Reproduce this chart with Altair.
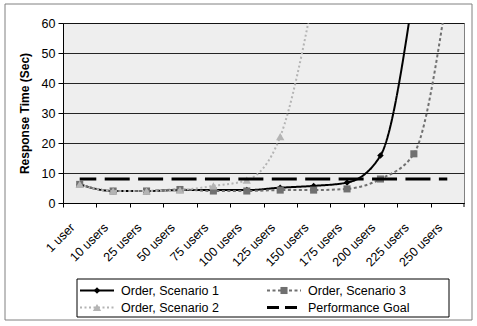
import altair as alt
import pandas as pd

# ---------------- data ----------------
categories = ["1 user", "10 users", "25 users", "50 users", "75 users", "100 users",
              "125 users", "150 users", "175 users", "200 users", "225 users", "250 users"]
series_names = ["Order, Scenario 1", "Order, Scenario 2", "Order, Scenario 3", "Performance Goal"]
scenario1 = [6.2, 4.0, 4.0, 4.3, 4.3, 4.3, 5.1, 5.7, 6.8, 15.8, 71.0, None]
scenario2 = [6.2, 4.0, 4.0, 4.3, 5.7, 7.6, 22.1, 69.0, None, None, None, None]
scenario3 = [6.2, 4.0, 4.0, 4.5, 4.0, 4.0, 4.3, 4.3, 4.7, 8.0, 16.4, 70.0]
goal = [8, 8, 8, 8, 8, 8, 8, 8, 8, 8, 8, 8]
y_ticks = [0, 10, 20, 30, 40, 50, 60]
legend_order = ["Order, Scenario 1", "Order, Scenario 3", "Order, Scenario 2", "Performance Goal"]

rows = []
for name, vals in zip(series_names, [scenario1, scenario2, scenario3, goal]):
    for i, (c, v) in enumerate(zip(categories, vals)):
        if v is not None:
            rows.append({"category": c, "series": name, "value": v, "idx": i})
df = pd.DataFrame(rows)

# ---------------- layout / style ----------------
W, H = 401, 180
STEP = W / len(categories)
FONT = "Liberation Sans"

styles = {
    "Order, Scenario 1": dict(color="#000000", dash=[1, 0], width=2.0, shape="diamond", size=42, dashoffset=0),
    "Order, Scenario 2": dict(color="#b4b4b4", dash=[2, 2.5], width=2.0, shape="triangle-up", size=70, dashoffset=0),
    "Order, Scenario 3": dict(color="#707070", dash=[3, 2.5], width=2.0, shape="square", size=50, dashoffset=0),
    "Performance Goal": dict(color="#000000", dash=[25, STEP - 25], width=3.2, shape=None, size=0, dashoffset=STEP - 25),
}

x_enc = alt.X("category:N", sort=categories,
              scale=alt.Scale(type="point", domain=categories, padding=0.5),
              axis=alt.Axis(title=None, labelAngle=-45, labelAlign="right", labelBaseline="middle",
                            labelFont=FONT, labelFontSize=12.5, labelColor="#000000",
                            labelPadding=18, tickOffset=-STEP / 2, labelOffset=STEP / 2 - 7.5,
                            tickSize=4, tickColor="#000000", domainColor="#000000",
                            grid=False, labelOverlap=False))
y_enc = alt.Y("value:Q",
              scale=alt.Scale(domain=[0, 60], nice=False, zero=True),
              axis=alt.Axis(values=y_ticks, title="Response Time (Sec)",
                            titleFont=FONT, titleFontSize=12, titleFontWeight="bold",
                            titleColor="#000000", titlePadding=10,
                            labelFont=FONT, labelFontSize=12.5, labelColor="#000000",
                            labelPadding=3, tickSize=5, tickColor="#000000",
                            domainColor="#000000", grid=True, gridColor="#000000",
                            gridWidth=1, gridOpacity=0.85))

base = alt.Chart(df)
layers = []
# plot-area layers, drawn in Excel series order (S1, S3, S2, Goal)
for name in legend_order:
    st = styles[name]
    line = base.transform_filter(alt.datum.series == name).mark_line(
        color=st["color"], strokeDash=st["dash"], strokeWidth=st["width"],
        strokeDashOffset=st["dashoffset"], interpolate="monotone", clip=True
    ).encode(x=x_enc, y=y_enc)
    layers.append(line)
    if st["shape"]:
        pts = base.transform_filter(alt.datum.series == name).mark_point(
            shape=st["shape"], size=st["size"], filled=True, color=st["color"], opacity=1, clip=True
        ).encode(x=x_enc, y=y_enc)
        layers.append(pts)

# closing tick at the right end of the category axis
end_tick = alt.Chart(pd.DataFrame({"a": [0]})).mark_rule(color="#000000", strokeWidth=1).encode(
    x=alt.value(W), y=alt.value(H), y2=alt.value(H + 4))
layers.append(end_tick)

# ---------------- legend (drawn below the plot) ----------------
BOX_X0, BOX_X1, BOX_Y0, BOX_Y1 = 14, 386, 256, 294
COL_X = [17, 204]
ROW_Y = [267.5, 284.5]
SYM_W = 34
leg_rows = []
for k, name in enumerate(legend_order):
    c, r = k % 2, k // 2
    leg_rows.append({"series": name, "x0": COL_X[c], "x1": COL_X[c] + SYM_W,
                     "xm": COL_X[c] + SYM_W / 2, "xt": COL_X[c] + SYM_W + 7, "y": ROW_Y[r]})
leg = pd.DataFrame(leg_rows)

frame_df = pd.DataFrame({"a": [0]})
legend_box = alt.Chart(frame_df).mark_rect(fill="#ffffff", stroke="#000000", strokeWidth=1).encode(
    x=alt.value(BOX_X0), x2=alt.value(BOX_X1), y=alt.value(BOX_Y0), y2=alt.value(BOX_Y1))
layers.append(legend_box)
for name in legend_order:
    st = styles[name]
    sub = alt.Chart(leg).transform_filter(alt.datum.series == name)
    layers.append(sub.mark_rule(color=st["color"], strokeDash=st["dash"] if name != "Performance Goal" else [12, 6],
                                strokeWidth=st["width"]).encode(
        x=alt.X("x0:Q", scale=None), x2="x1:Q", y=alt.Y("y:Q", scale=None)))
    if st["shape"]:
        layers.append(sub.mark_point(shape=st["shape"], size=st["size"], filled=True,
                                     color=st["color"], opacity=1).encode(
            x=alt.X("xm:Q", scale=None), y=alt.Y("y:Q", scale=None)))
layers.append(alt.Chart(leg).mark_text(align="left", baseline="middle", font=FONT, fontSize=12.5,
                                       color="#000000").encode(
    x=alt.X("xt:Q", scale=None), y=alt.Y("y:Q", scale=None), text="series:N"))

# outer frame around the whole figure
outer = alt.Chart(frame_df).mark_rect(fill=None, stroke="#808080", strokeWidth=1).encode(
    x=alt.value(-58), x2=alt.value(409), y=alt.value(-19), y2=alt.value(297))
layers.append(outer)

chart = alt.layer(*layers).properties(
    width=W, height=H,
    autosize=alt.AutoSizeParams(type="none"),
    padding={"left": 63, "top": 23, "right": 477 - 63 - W, "bottom": 326 - 23 - H},
    background="#ffffff",
).configure_view(fill="#eeeeee", stroke="#808080", strokeWidth=1)

chart.save("out.html", embed_options={"renderer": "svg", "actions": False})
